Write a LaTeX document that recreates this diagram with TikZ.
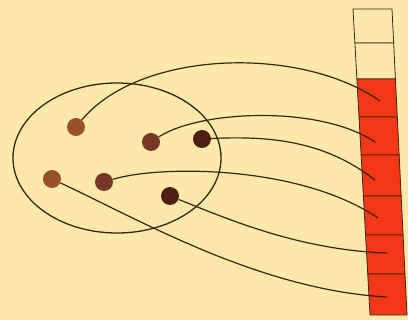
\documentclass[tikz,border=0pt]{standalone}
\usepackage{tikz}
\definecolor{paper}{RGB}{252,233,170}
\definecolor{ink}{RGB}{55,35,20}
\definecolor{barred}{RGB}{244,55,22}
\definecolor{dotA}{RGB}{152,82,42}
\definecolor{dotB}{RGB}{118,56,36}
\definecolor{dotC}{RGB}{78,30,20}
\tikzset{
  dot/.style={circle,inner sep=0pt,minimum size=18pt,draw=none},
  link/.style={ink,line width=1.2pt},
  cellbox/.style={draw=ink,line width=0.8pt}}
% bar edges: left and right x at height y
\newcommand{\bl}[1]{353+(#1-9)*0.0556}
\newcommand{\br}[1]{392+(#1-9)*0.049}
\newcommand{\bcell}[3]{%
  \draw[cellbox,fill=#3] ({\bl{#1}},#1) -- ({\br{#1}},#1)
    -- ({\br{#2}},#2) -- ({\bl{#2}},#2) -- cycle;}

\begin{document}
\begin{tikzpicture}[x=1pt,y=-1pt]
  \fill[paper] (0,0) rectangle (408,320);
  \useasboundingbox (0,0) rectangle (408,320);
  \bcell{9}{43}{paper}
  \bcell{43}{79}{paper}
  \foreach \ya/\yb in {79/117,117/155,155/196,196/235,235/274,274/315}
    {\bcell{\ya}{\yb}{barred}}
  \draw[ink,line width=1.3pt] (117,158) ellipse [x radius=104pt,y radius=75pt];
  \node[dot,fill=dotA] (d1) at (76,127) {};
  \node[dot,fill=dotB] (d2) at (151,142) {};
  \node[dot,fill=dotC] (d3) at (202,139) {};
  \node[dot,fill=dotA] (d4) at (52,179) {};
  \node[dot,fill=dotB] (d5) at (104,182) {};
  \node[dot,fill=dotC] (d6) at (170,196) {};
  \coordinate (e3) at (380,101);
  \coordinate (e4) at (375,142);
  \coordinate (e5) at (375,180);
  \coordinate (e6) at (378,218);
  \coordinate (e7) at (387,253);
  \coordinate (e8) at (387,297);
  \draw[link] (d1) .. controls (140,50) and (300,45) .. (e3);
  \draw[link] (d2) .. controls (200,110) and (320,105) .. (e4);
  \draw[link] (d3) .. controls (280,135) and (330,145) .. (e5);
  \draw[link] (d5) .. controls (160,165) and (300,165) .. (e6);
  \draw[link] (d6) .. controls (230,220) and (300,250) .. (e7);
  \draw[link] (d4) .. controls (140,220) and (260,290) .. (e8);
\end{tikzpicture}
\end{document}
